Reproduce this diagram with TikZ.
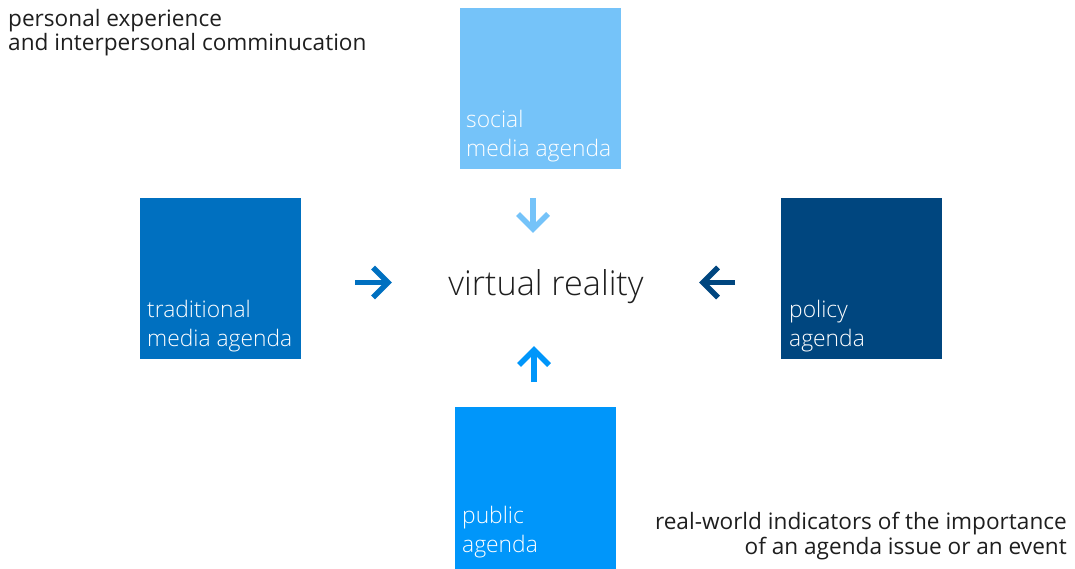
\documentclass[tikz,border=0pt]{standalone}
\usepackage{fontspec}
\IfFontExistsTF{Open Sans Light}
  {\newfontfamily\thinfont{Open Sans Light}}
  {\newfontfamily\thinfont{Open Sans}}
\setmainfont{Open Sans}
\usetikzlibrary{calc}
\definecolor{socialblue}{HTML}{75C3F9}
\definecolor{tradblue}{HTML}{0070C0}
\definecolor{policyblue}{HTML}{00467F}
\definecolor{publicblue}{HTML}{0096FA}
\definecolor{inktext}{HTML}{1E1E1E}
\tikzset{
  agendabox/.style={draw=none, minimum width=161pt, minimum height=161pt,
    inner sep=0pt, anchor=north west},
  % multi-line nodes: the base anchor sits on the last line
  boxlabel/.style={text=white, font=\thinfont\fontsize{22.8}{28.5}\selectfont,
    align=left, inner sep=0pt, anchor=base west},
  note/.style={text=inktext, font=\fontsize{22.6}{24.5}\selectfont, inner sep=0pt},
  flowarrow/.style={line width=5.5pt, line cap=butt, line join=miter},
}
\begin{document}
\begin{tikzpicture}[x=1pt, y=-1pt]
  \useasboundingbox (0,0) rectangle (1075,569);

  % the four agenda tiles
  \node[agendabox, fill=socialblue] (social) at (460,8) {};
  \node[agendabox, fill=tradblue] (trad) at (140,198) {};
  \node[agendabox, fill=policyblue] (policy) at (781,198) {};
  \node[agendabox, fill=publicblue, minimum height=165pt] (public) at (455,407) {};

  \node[boxlabel] (sociallbl) at ($(social.south west)+(6,-13)$) {social\\media agenda};
  \node[boxlabel] (tradlbl) at ($(trad.south west)+(7,-13)$) {traditional\\media agenda};
  \node[boxlabel] (policylbl) at ($(policy.south west)+(8,-13)$) {policy\\agenda};
  \node[boxlabel] (publiclbl) at (462,552) {public\\agenda};

  % centre
  \node[inktext, font=\thinfont\fontsize{34.2}{40}\selectfont, inner sep=0pt, anchor=base]
    (vr) at (546,295) {virtual reality};

  % free-standing notes
  \node[note, anchor=base west, align=left] (personal) at (8,51)
    {personal experience\\and interpersonal comminucation};
  \node[note, anchor=base east, align=right] (realworld) at (1067,554)
    {real-world indicators of the importance\\of an agenda issue or an event};

  % arrow end points
  \coordinate (sdA) at (533,198);
  \coordinate (sdB) at (533,229);
  \coordinate (trA) at (355,282.5);
  \coordinate (trB) at (388,282.5);
  \coordinate (plA) at (735,282.5);
  \coordinate (plB) at (703,282.5);
  \coordinate (puA) at (534,382);
  \coordinate (puB) at (534,350);

  % arrows towards the centre
  \draw[flowarrow, socialblue] (sdA) -- (sdB);
  \draw[flowarrow, socialblue] ($(sdB)+(-15,-15)$) -- (sdB) -- ($(sdB)+(15,-15)$);
  \draw[flowarrow, tradblue] (trA) -- (trB);
  \draw[flowarrow, tradblue] ($(trB)+(-15,-15)$) -- (trB) -- ($(trB)+(-15,15)$);
  \draw[flowarrow, policyblue] (plA) -- (plB);
  \draw[flowarrow, policyblue] ($(plB)+(15,-15)$) -- (plB) -- ($(plB)+(15,15)$);
  \draw[flowarrow, publicblue] (puA) -- (puB);
  \draw[flowarrow, publicblue] ($(puB)+(-15,15)$) -- (puB) -- ($(puB)+(15,15)$);
\end{tikzpicture}
\end{document}
